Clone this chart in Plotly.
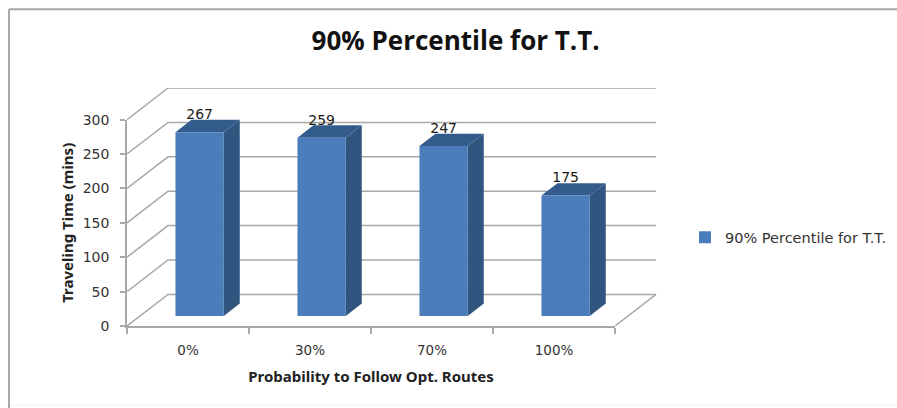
import plotly.graph_objects as go

# Chart data
categories = ["0%", "30%", "70%", "100%"]
travel_minutes = [267, 259, 247, 175]
value_ticks = [0, 50, 100, 150, 200, 250, 300]
series_name = "90% Percentile for T.T."

# Pixel frame: front face of the chart box, plus the back wall behind it
WIDTH, HEIGHT = 897, 408
LEFT, FRONT_RIGHT, BACK_RIGHT = 127, 615, 657
FRONT_TOP, BACK_TOP, BOTTOM = 119.3, 87.7, 325.7
n = len(categories)
PX_PER_CAT = (FRONT_RIGHT - LEFT) / n
PX_PER_VAL = (BOTTOM - FRONT_TOP) / value_ticks[-1]

# Oblique projection: full floor depth expressed in axis units
DEPTH_X = (BACK_RIGHT - FRONT_RIGHT - 1) / PX_PER_CAT
DEPTH_Y = (FRONT_TOP - BACK_TOP) / PX_PER_VAL
BAR_WIDTH = 0.396
BAR_SHIFT = -1.5 / PX_PER_CAT
BAR_FRONT = 0.32   # fraction of the depth where the front face sits
BAR_BACK = 0.71    # fraction of the depth where the back face sits
LABEL_RISE = 16.5 / PX_PER_VAL

GRID = "#a8a8a8"
FACE = "#4a7db9"
SIDE = "#30557f"
TOP = "#335c8c"
TICK_TEXT = "#333333"
TITLE_TEXT = "#222222"


def project(c, v, d):
    return c + DEPTH_X * d, v + DEPTH_Y * d


fig = go.Figure()


def line(xs, ys):
    fig.add_trace(go.Scatter(x=xs, y=ys, mode="lines", showlegend=False, hoverinfo="skip",
                             line=dict(color=GRID, width=1.5)))


# Walls and floor: each gridline runs across the side wall, then along the back wall
for v in value_ticks:
    a = project(0, v, 0)
    b = project(0, v, 1)
    c = project(n, v, 1)
    line([a[0], b[0], c[0]], [a[1], b[1], c[1]])
e1 = project(n, 0, 0)
e2 = project(n, 0, 1)
line([e1[0], e2[0]], [e1[1], e2[1]])

# Side and top faces of the columns
offset_x, offset_y = project(BAR_SHIFT, 0, BAR_FRONT)
centers = [i + 0.5 for i in range(n)]
for c, v in zip(centers, travel_minutes):
    right = c + BAR_SHIFT + BAR_WIDTH / 2
    left = c + BAR_SHIFT - BAR_WIDTH / 2
    p = [project(right, 0, BAR_FRONT), project(right, 0, BAR_BACK),
         project(right, v, BAR_BACK), project(right, v, BAR_FRONT)]
    fig.add_trace(go.Scatter(x=[q[0] for q in p], y=[q[1] for q in p], fill="toself",
                             fillcolor=SIDE, mode="lines", line=dict(width=0),
                             showlegend=False, hoverinfo="skip"))
    p = [project(left, v, BAR_FRONT), project(left, v, BAR_BACK),
         project(right, v, BAR_BACK), project(right, v, BAR_FRONT)]
    fig.add_trace(go.Scatter(x=[q[0] for q in p], y=[q[1] for q in p], fill="toself",
                             fillcolor=TOP, mode="lines", line=dict(width=0),
                             showlegend=False, hoverinfo="skip"))

# Value labels above each column
fig.add_trace(go.Scatter(x=[c + offset_x for c in centers],
                         y=[v + offset_y + LABEL_RISE for v in travel_minutes],
                         text=[str(v) for v in travel_minutes], mode="text",
                         textposition="middle center",
                         textfont=dict(family="DejaVu Sans", size=14, color="#1a1a1a"),
                         showlegend=False, hoverinfo="skip"))

# Front faces of the columns, on the visible axes
fig.add_trace(go.Bar(x=[c + offset_x for c in centers], y=travel_minutes,
                     base=[offset_y] * n, width=BAR_WIDTH, name=series_name,
                     marker=dict(color=FACE, line=dict(width=0)),
                     xaxis="x2", yaxis="y2", hoverinfo="skip"))

back_width = BACK_RIGHT - LEFT
back_height = BOTTOM - BACK_TOP
fig.update_layout(
    width=WIDTH, height=HEIGHT, autosize=False,
    margin=dict(l=LEFT, r=WIDTH - BACK_RIGHT, t=BACK_TOP, b=HEIGHT - BOTTOM, autoexpand=False),
    paper_bgcolor="white", plot_bgcolor="rgba(0,0,0,0)",
    title=dict(text="<b>" + series_name + "</b>", x=0.508, xanchor="center",
               y=0.90, yanchor="middle",
               font=dict(family="Open Sans", size=26, color="#111111")),
    # Full box including the back wall: carries the projected marks, draws nothing itself
    xaxis=dict(range=[0, back_width / PX_PER_CAT], visible=False),
    yaxis=dict(range=[0, back_height / PX_PER_VAL], visible=False),
    # Front face of the box: ticks, labels and axis titles
    xaxis2=dict(domain=[0, (FRONT_RIGHT - LEFT) / back_width], anchor="y2",
                range=[0, n], showgrid=False, zeroline=False,
                showline=True, linecolor=GRID, linewidth=1.5,
                tickmode="array", tickvals=centers, ticktext=categories,
                ticks="outside", ticklen=11, tickcolor="rgba(0,0,0,0)",
                tickfont=dict(family="DejaVu Sans", size=13.5, color=TICK_TEXT),
                minor=dict(tickmode="array", tickvals=list(range(n + 1)), ticks="outside",
                           ticklen=6, tickcolor=GRID, tickwidth=1.5),
                title=dict(text="<b>Probability to Follow Opt. Routes</b>",
                           font=dict(family="Noto Sans", size=15, color=TITLE_TEXT))),
    yaxis2=dict(domain=[0, (BOTTOM - FRONT_TOP) / back_height], anchor="x2",
                range=[0, value_ticks[-1]], showgrid=False, zeroline=False,
                showline=True, linecolor=GRID, linewidth=1.5,
                tickmode="array", tickvals=value_ticks, ticks="outside", ticklen=5,
                tickcolor=GRID, tickwidth=1.5, ticklabelstandoff=8,
                tickfont=dict(family="DejaVu Sans", size=14, color=TICK_TEXT),
                title=dict(text="<b>Traveling Time (mins)</b>", standoff=5,
                           font=dict(family="Noto Sans", size=15, color=TITLE_TEXT))),
    legend=dict(x=(685 - LEFT) / back_width, y=(BOTTOM - 237) / back_height,
                xanchor="left", yanchor="middle", bgcolor="rgba(0,0,0,0)",
                font=dict(family="DejaVu Sans", size=14.5, color=TICK_TEXT),
                itemwidth=30, itemclick=False),
    showlegend=True,
)

# Chart-area border: top and left in mid grey, faint bottom edge
to_x = lambda px: (px - LEFT) / back_width
to_y = lambda py: (BOTTOM - py) / back_height
fig.layout.shapes = [
    dict(type="line", xref="paper", yref="paper", x0=to_x(9), x1=to_x(WIDTH), y0=to_y(9), y1=to_y(9),
         line=dict(color="#a8a8a8", width=2)),
    dict(type="line", xref="paper", yref="paper", x0=to_x(9), x1=to_x(9), y0=to_y(9), y1=to_y(HEIGHT),
         line=dict(color="#a8a8a8", width=2)),
    dict(type="line", xref="paper", yref="paper", x0=to_x(10), x1=to_x(WIDTH), y0=to_y(405), y1=to_y(405),
         line=dict(color="#efefef", width=1)),
]

fig.write_html("out.html")
